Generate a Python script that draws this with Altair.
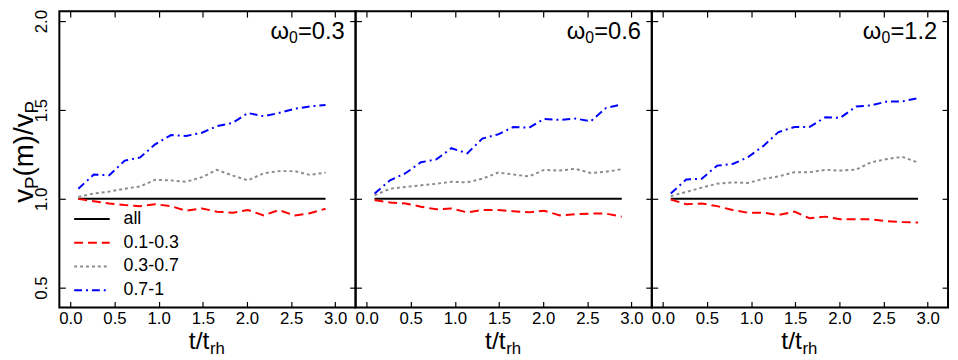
import altair as alt
import pandas as pd

# ---------------- data ----------------
t_vals = [0.09, 0.265, 0.44, 0.615, 0.79, 0.96, 1.14, 1.31, 1.49,
          1.66, 1.84, 2.01, 2.19, 2.36, 2.54, 2.71, 2.89]
omega_vals = ["0.3", "0.6", "1.2"]
series_names = ["all", "0.1-0.3", "0.3-0.7", "0.7-1"]
series_colors = ["#000000", "#ff0000", "#8c8c8c", "#0000ff"]
series_dashes = [[1, 0], [9, 5], [3, 3], [8, 4, 2, 4]]
x_ticks = [0.0, 0.5, 1.0, 1.5, 2.0, 2.5, 3.0]
y_ticks = [0.5, 1.0, 1.5, 2.0]

# omega0 = 0.3
all_03 = [1.0] * 17
red_03 = [1.000, 0.987, 0.974, 0.965, 0.959, 0.970, 0.959, 0.933, 0.946,
          0.928, 0.922, 0.937, 0.907, 0.937, 0.906, 0.919, 0.944]
gray_03 = [1.011, 1.030, 1.041, 1.057, 1.070, 1.107, 1.104, 1.096, 1.122,
           1.163, 1.131, 1.104, 1.144, 1.156, 1.156, 1.135, 1.148]
blue_03 = [1.057, 1.137, 1.133, 1.215, 1.233, 1.307, 1.359, 1.354, 1.372,
           1.409, 1.428, 1.483, 1.465, 1.483, 1.507, 1.520, 1.528]

# omega0 = 0.6
all_06 = [1.0] * 17
red_06 = [0.993, 0.980, 0.974, 0.956, 0.941, 0.946, 0.924, 0.937, 0.937,
          0.930, 0.924, 0.933, 0.907, 0.913, 0.917, 0.917, 0.900]
gray_06 = [1.020, 1.057, 1.067, 1.076, 1.085, 1.096, 1.093, 1.113, 1.148,
           1.137, 1.126, 1.163, 1.159, 1.169, 1.146, 1.152, 1.167]
blue_06 = [1.030, 1.104, 1.144, 1.206, 1.222, 1.285, 1.256, 1.339, 1.363,
           1.404, 1.400, 1.450, 1.444, 1.452, 1.437, 1.511, 1.531]

# omega0 = 1.2
all_12 = [1.0] * 17
red_12 = [0.996, 0.970, 0.974, 0.959, 0.937, 0.922, 0.922, 0.909, 0.928,
          0.891, 0.900, 0.885, 0.885, 0.885, 0.874, 0.869, 0.867]
gray_12 = [1.015, 1.039, 1.063, 1.085, 1.093, 1.089, 1.113, 1.126, 1.150,
           1.150, 1.163, 1.159, 1.165, 1.206, 1.224, 1.237, 1.204]
blue_12 = [1.030, 1.109, 1.113, 1.187, 1.196, 1.233, 1.298, 1.376, 1.404,
           1.404, 1.459, 1.456, 1.520, 1.526, 1.548, 1.548, 1.567]

panel_series = {
    "0.3": [all_03, red_03, gray_03, blue_03],
    "0.6": [all_06, red_06, gray_06, blue_06],
    "1.2": [all_12, red_12, gray_12, blue_12],
}

rows = []
for om in omega_vals:
    for name, vals in zip(series_names, panel_series[om]):
        for tt, vv in zip(t_vals, vals):
            rows.append({"omega": om, "series": name, "t": tt, "v": vv})
df = pd.DataFrame(rows)

FONT = "Liberation Sans"
W, H = 300, 300
xs = alt.Scale(domain=[-0.125, 3.23], nice=False, zero=False)
ys = alt.Scale(domain=[0.389, 2.056], nice=False, zero=False)


def tick_axis(orient, values, labels, **kw):
    return alt.Axis(orient=orient, values=values, labels=labels, format=".1f",
                    offset=-6, tickSize=6, tickWidth=1.2, tickColor="black",
                    domain=False, grid=False, title=None,
                    labelFont=FONT, labelFontSize=17, labelColor="black",
                    labelOverlap=False, labelFlush=False, labelBound=False, **kw)


def make_panel(k):
    om = omega_vals[k]
    first = k == 0
    d = df[df["omega"] == om]

    legend = alt.Legend(title=None, orient="none", legendX=14, legendY=202,
                        symbolType="stroke", symbolSize=1296, symbolStrokeWidth=2,
                        labelFont=FONT, labelFontSize=18, labelColor="black",
                        labelOffset=13, clipHeight=17, rowPadding=5,
                        padding=0) if first else None

    yax = tick_axis("left", y_ticks, first, labelAngle=270, labelAlign="center",
                    labelBaseline="bottom", labelPadding=9)
    xax = tick_axis("bottom", x_ticks, True, labelPadding=3)

    lines = alt.Chart(d).mark_line(strokeWidth=2).encode(
        x=alt.X("t:Q", scale=xs, axis=xax),
        y=alt.Y("v:Q", scale=ys, axis=yax),
        color=alt.Color("series:N", sort=series_names,
                        scale=alt.Scale(domain=series_names, range=series_colors),
                        legend=legend),
        strokeDash=alt.StrokeDash("series:N", sort=series_names,
                                  scale=alt.Scale(domain=series_names, range=series_dashes),
                                  legend=legend),
    )

    mirror = alt.Chart(d).mark_line(opacity=0).encode(
        x=alt.X("t:Q", scale=xs, axis=tick_axis("top", x_ticks, False)),
        y=alt.Y("v:Q", scale=ys, axis=tick_axis("right", y_ticks, False)),
        detail="series:N",
    )

    lab = alt.Chart(pd.DataFrame({"omega": [om]}))
    om_main = lab.transform_calculate(txt="'=' + datum.omega").mark_text(
        font=FONT, fontSize=24, align="right", baseline="alphabetic", color="black"
    ).encode(x=alt.value(289), y=alt.value(28), text="txt:N")
    om_sub = lab.mark_text(
        font=FONT, fontSize=16, align="right", baseline="alphabetic", color="black"
    ).encode(x=alt.value(241.5), y=alt.value(32), text=alt.value("0"))
    om_sym = lab.mark_text(
        font=FONT, fontSize=24, align="right", baseline="alphabetic", color="black"
    ).encode(x=alt.value(232.5), y=alt.value(28), text=alt.value("ω"))

    xt_main = lab.mark_text(
        font=FONT, fontSize=25, align="right", baseline="alphabetic", color="black"
    ).encode(x=alt.value(152), y=alt.value(342), text=alt.value("t/t"))
    xt_sub = lab.mark_text(
        font=FONT, fontSize=17, align="left", baseline="alphabetic", color="black"
    ).encode(x=alt.value(152.5), y=alt.value(347), text=alt.value("rh"))

    layers = [lines, mirror, om_main, om_sub, om_sym, xt_main, xt_sub]

    if first:
        F, f = 28, 19
        y0 = 194
        pieces = [("v", F, -27, 0.5 * F), ("P", f, -22, 0.667 * f),
                  ("(m)/v", F, -27, 2.277 * F), ("P", f, -22, 0.667 * f)]
        pos = y0
        for txt, fs, xb, w in pieces:
            layers.append(lab.mark_text(
                font=FONT, fontSize=fs, angle=270, align="left",
                baseline="alphabetic", color="black"
            ).encode(x=alt.value(xb), y=alt.value(pos), text=alt.value(txt)))
            pos -= w

    return alt.layer(*layers).properties(width=W, height=H)


chart = alt.hconcat(*[make_panel(k) for k in range(3)], spacing=0, bounds="flush").resolve_scale(
    color="independent", strokeDash="independent"
).properties(
    padding={"left": 2, "top": -2, "right": 0, "bottom": 0},
    background="white",
).configure_view(
    stroke="black", strokeWidth=2
)

chart.save("out.html", embed_options={"renderer": "svg", "actions": False})
